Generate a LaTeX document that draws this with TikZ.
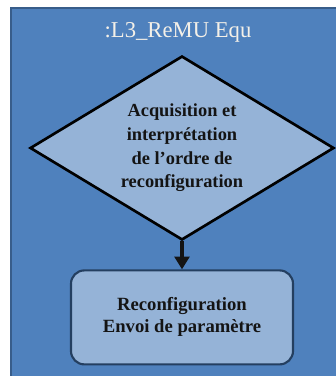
\documentclass[tikz,border=0pt]{standalone}
\usepackage{fontspec}
\setmainfont{Liberation Serif}
\usepackage{xcolor}
\usepackage{tikz}
\usetikzlibrary{arrows.meta,positioning,shapes.geometric}
\definecolor{reFrame}{HTML}{4F81BD}
\definecolor{reFrameLine}{HTML}{385D8A}
\definecolor{reLight}{HTML}{95B3D7}
\definecolor{reInk}{HTML}{141414}
\definecolor{reLine}{HTML}{243F60}
\definecolor{reTitle}{HTML}{F4F0E8}
\tikzset{
  % Outer frame (blue)
  fbox/.style={draw=reFrameLine,line width=1.6pt,fill=reFrame},
  % Frame title
  tlbl/.style={font=\fontsize{17}{20}\selectfont,text=reTitle},
  % Decision diamond
  dbox/.style={diamond,aspect=1.65,
    minimum width=228pt,minimum height=138pt,inner sep=0pt,
    draw=black,line width=2pt,fill=reLight,align=center,
    font=\fontsize{13.8}{17.7}\selectfont\bfseries,text=reInk},
  % Process box
  pbox/.style={rectangle,rounded corners=10pt,
    minimum width=166.5pt,minimum height=70.5pt,
    draw=reLine,line width=1.6pt,fill=reLight,align=center,
    font=\fontsize{14}{16.5}\selectfont\bfseries,text=reInk},
  % Arrow
  arr/.style={-{Triangle[length=9.5pt,width=11pt]},line width=2.8pt,color=reInk},
}
\begin{document}
\begin{tikzpicture}[x=0.75pt,y=-0.75pt]

  \clip (0,0) rectangle (336,376);

  \draw[fbox] (11,8) rectangle (350,390);
  \node[tlbl] (title) at (178,32) {:L3\_ReMU Equ};

  \node[dbox] (decide) at (182,148)
    {Acquisition et\\ interprétation\\ de l’ordre de\\ reconfiguration};

  \node[pbox,below=21pt of decide] (reconf)
    {Reconfiguration\\ Envoi de paramètre};

  \draw[arr] (decide) -- (reconf);

\end{tikzpicture}
\end{document}
